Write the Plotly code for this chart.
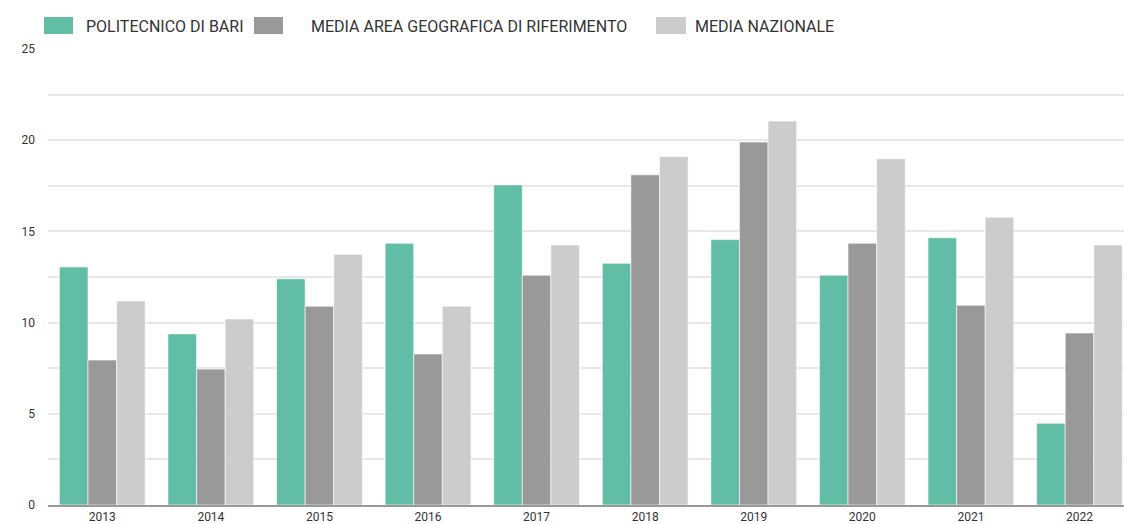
import plotly.graph_objects as go

# =========================
# Dati
# =========================
anni = ["2013", "2014", "2015", "2016", "2017", "2018", "2019", "2020", "2021", "2022"]
politecnico = [13.05, 9.38, 12.4, 14.35, 17.55, 13.25, 14.55, 12.6, 14.65, 4.48]
media_area = [7.95, 7.45, 10.9, 8.28, 12.6, 18.1, 19.9, 14.35, 10.95, 9.43]
media_nazionale = [11.18, 10.2, 13.75, 10.9, 14.25, 19.1, 21.05, 18.98, 15.78, 14.25]

serie = ["POLITECNICO DI BARI", "MEDIA AREA GEOGRAFICA DI RIFERIMENTO", "MEDIA NAZIONALE"]
colori = ["#62bda6", "#999999", "#cccccc"]
valori = [politecnico, media_area, media_nazionale]

# =========================
# Geometria (pixel)
# =========================
W, H = 1124, 524
ML, MR, MT, MB = 48, 0, 49, 19
PW, PH = W - ML - MR, H - MT - MB


def px(x):
    return (x - ML) / PW


def py(y):
    return (H - MB - y) / PH


fig = go.Figure()
for nome, col, v in zip(serie, colori, valori):
    fig.add_trace(go.Bar(
        x=anni, y=v, name=nome,
        marker=dict(color=col, line=dict(color="rgba(255,255,255,0.6)", width=1)),
        showlegend=False,
    ))

# legenda manuale (rettangoli larghi come nell'originale)
leg_rect = [(44, 73), (254, 283), (656, 686)]
leg_text = [86, 311, 695]
shapes, annotations = [], []
for (x0, x1), tx, nome, col in zip(leg_rect, leg_text, serie, colori):
    shapes.append(dict(type="rect", xref="paper", yref="paper",
                       x0=px(x0), x1=px(x1), y0=py(34), y1=py(17),
                       fillcolor=col, line=dict(width=0)))
    annotations.append(dict(xref="paper", yref="paper", x=px(tx) - 0.002, y=py(26.5),
                            text=nome, showarrow=False, xanchor="left", yanchor="middle",
                            font=dict(family="Roboto", size=16, color="#333333")))

fig.update_layout(
    width=W, height=H,
    margin=dict(l=ML, r=MR, t=MT, b=MB),
    plot_bgcolor="white", paper_bgcolor="white",
    barmode="group", bargap=0.21, bargroupgap=0.0,
    font=dict(family="Roboto", size=12, color="#444444"),
    shapes=shapes, annotations=annotations,
    xaxis=dict(range=[-0.5, 9.41], showgrid=False, ticks="", showline=True,
               linecolor="#999999", linewidth=2, tickfont=dict(size=12, color="#333333")),
    yaxis=dict(range=[0, 25], showgrid=True, gridcolor="#e8e8e8",
               gridwidth=2, zeroline=False, ticks="", tickfont=dict(size=12, color="#333333"),
               tickvals=[0, 2.5, 5, 7.5, 10, 12.5, 15, 17.5, 20, 22.5, 25],
               ticktext=["0", "", "5", "", "10", "", "15", "", "20", "", "25"],
               ticklabelstandoff=12),
)

fig.write_html("out.html", config={"displayModeBar": False},
               post_script="document.body.style.margin='0';document.body.style.overflow='hidden';")
